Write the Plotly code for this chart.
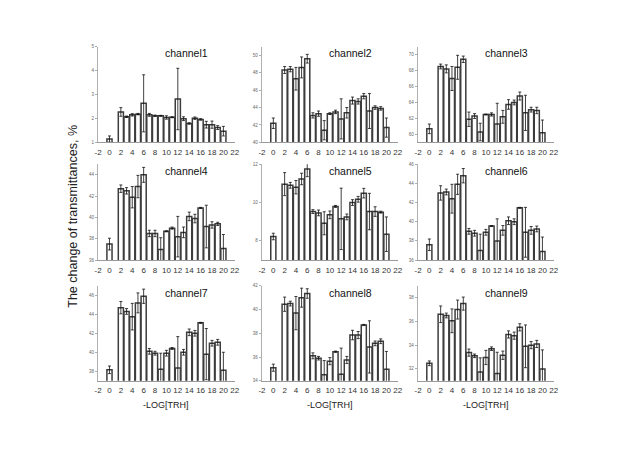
import plotly.graph_objects as go

x_vals = [0, 2, 3, 4, 5, 6, 7, 8, 9, 10, 11, 12, 13, 14, 15, 16, 17, 18, 19, 20]

ch1 = [1.14, 2.27, 2.07, 2.15, 2.18, 2.63, 2.15, 2.11, 2.11, 2.04, 2.05, 2.81, 1.99, 1.79, 2.01, 1.96, 1.74, 1.74, 1.62, 1.47]
ch1_err = [0.13, 0.18, 0.03, 0.05, 0.03, 1.19, 0.06, 0.03, 0.02, 0.07, 0.02, 1.28, 0.08, 0.03, 0.05, 0.03, 0.14, 0.15, 0.08, 0.2]

ch2 = [42.2, 48.3, 48.4, 47.3, 48.6, 49.6, 43.1, 43.3, 41.4, 43.3, 43.5, 42.7, 43.4, 44.8, 44.7, 45.3, 43.6, 44.0, 43.9, 41.7]
ch2_err = [0.6, 0.4, 0.3, 1.3, 1.2, 0.5, 0.3, 0.3, 1.1, 0.1, 0.2, 2.3, 0.6, 0.4, 0.3, 0.3, 2.0, 0.2, 0.2, 1.1]

ch3 = [60.7, 68.5, 68.2, 67.0, 68.4, 69.4, 61.9, 62.3, 60.3, 62.5, 62.5, 61.3, 62.2, 63.75, 64.0, 64.8, 62.7, 63.1, 63.0, 60.2]
ch3_err = [0.6, 0.3, 0.5, 1.5, 1.5, 0.4, 0.9, 0.3, 1.1, 0.05, 0.2, 2.6, 0.8, 0.6, 0.3, 0.5, 2.2, 0.3, 0.4, 1.6]

ch4 = [37.5, 42.7, 42.5, 41.9, 42.9, 44.0, 38.5, 38.5, 37.0, 38.7, 39.0, 38.2, 38.6, 40.1, 39.9, 40.9, 39.15, 39.3, 39.4, 37.1]
ch4_err = [0.55, 0.35, 0.3, 1.0, 1.05, 0.7, 0.3, 0.3, 1.1, 0.05, 0.1, 1.9, 0.5, 0.4, 0.4, 0.05, 2.0, 0.3, 0.15, 1.3]

ch5 = [8.23, 10.96, 10.9, 10.8, 11.23, 11.75, 9.53, 9.46, 8.92, 9.36, 9.8, 9.15, 9.25, 10.0, 10.17, 10.49, 9.53, 9.53, 9.5, 8.35]
ch5_err = [0.17, 0.6, 0.15, 0.35, 0.3, 0.4, 0.1, 0.15, 0.6, 0.2, 0.05, 1.6, 0.15, 0.15, 0.15, 0.25, 0.95, 0.25, 0.05, 0.9]

ch6 = [37.6, 43.0, 43.1, 42.4, 43.9, 44.8, 39.0, 38.8, 37.0, 38.9, 39.55, 38.0, 39.1, 40.1, 40.0, 41.45, 38.9, 39.1, 39.25, 36.9]
ch6_err = [0.6, 0.75, 0.3, 1.5, 1.05, 0.75, 0.3, 0.3, 1.7, 0.3, 0.05, 2.3, 0.5, 0.4, 0.3, 0.05, 2.6, 0.4, 0.3, 1.5]

ch7 = [38.15, 44.7, 44.3, 43.75, 45.2, 45.9, 40.1, 39.9, 38.2, 39.9, 40.4, 38.35, 40.0, 42.1, 42.0, 43.1, 39.8, 40.95, 41.05, 38.1]
ch7_err = [0.4, 0.65, 0.3, 1.4, 1.05, 0.75, 0.3, 0.2, 1.7, 0.3, 0.1, 3.3, 0.3, 0.35, 0.3, 0.05, 2.7, 0.3, 0.3, 1.9]

ch8 = [35.1, 40.45, 40.5, 39.7, 41.0, 41.35, 36.1, 35.9, 34.5, 35.65, 36.45, 34.55, 35.75, 37.85, 37.85, 38.7, 36.85, 37.15, 37.33, 34.97]
ch8_err = [0.3, 0.6, 0.2, 1.4, 0.8, 0.4, 0.25, 0.15, 1.2, 0.3, 0.05, 2.2, 0.3, 0.4, 0.3, 0.05, 2.2, 0.2, 0.2, 1.5]

ch9 = [32.47, 36.6, 36.5, 36.05, 37.0, 37.5, 33.37, 33.1, 31.73, 32.96, 33.7, 31.6, 33.15, 34.9, 34.8, 35.5, 33.9, 34.0, 34.1, 32.0]
ch9_err = [0.2, 0.7, 0.2, 1.0, 0.8, 0.55, 0.3, 0.15, 1.2, 0.6, 0.15, 1.8, 0.35, 0.3, 0.3, 0.3, 1.8, 0.3, 0.3, 1.6]

titles = ["channel1", "channel2", "channel3", "channel4", "channel5",
          "channel6", "channel7", "channel8", "channel9"]
means = [ch1, ch2, ch3, ch4, ch5, ch6, ch7, ch8, ch9]
errs = [ch1_err, ch2_err, ch3_err, ch4_err, ch5_err, ch6_err, ch7_err, ch8_err, ch9_err]
y_ranges = [[1, 5], [40, 51], [59, 71], [36, 45], [7, 12], [36, 46], [37, 47], [34, 42], [31, 39]]
y_ticks = [[1, 2, 3, 4, 5], [40, 42, 44, 46, 48, 50], [60, 62, 64, 66, 68, 70],
           [36, 38, 40, 42, 44], [8, 10, 12], [36, 38, 40, 42, 44, 46],
           [38, 40, 42, 44, 46], [34, 36, 38, 40, 42], [32, 34, 36, 38]]
x_ticks = list(range(-2, 23, 2))
x_ticktext = [str(v) for v in x_ticks]

W, H = 640, 450
col_px = [(96, 235), (262, 400), (420, 558)]
row_px = [(45, 142), (164, 261), (287, 383)]

FONT = "Liberation Sans, Arial, sans-serif"
fig = go.Figure()
layout = dict(
    width=W, height=H, margin=dict(l=0, r=0, t=0, b=0),
    paper_bgcolor="white", plot_bgcolor="white", showlegend=False,
    font=dict(family=FONT, color="#222"),
    bargap=0.1,
)
annotations = []
for i in range(9):
    r, c = divmod(i, 3)
    n = i + 1
    xa = "xaxis" if n == 1 else f"xaxis{n}"
    ya = "yaxis" if n == 1 else f"yaxis{n}"
    xr = "x" if n == 1 else f"x{n}"
    yr = "y" if n == 1 else f"y{n}"
    x0, x1 = col_px[c]
    y0, y1 = row_px[r]
    layout[xa] = dict(
        domain=[x0 / W, x1 / W], anchor=yr, range=[-2.05, 22.05],
        tickvals=x_ticks, ticktext=x_ticktext, showgrid=False, zeroline=False,
        showline=True, linecolor="#9a9a9a", linewidth=1, ticks="",
        tickangle=0, ticklabelstandoff=2,
        tickfont=dict(size=8, color="#333", family=FONT),
    )
    layout[ya] = dict(
        domain=[1 - y1 / H, 1 - y0 / H], anchor=xr, range=y_ranges[i],
        tickvals=y_ticks[i], showgrid=False, zeroline=False,
        showline=True, linecolor="#b0b0b0", linewidth=1, ticks="outside",
        ticklen=2, tickcolor="#b0b0b0",
        tickfont=dict(size=4.5, color="#666", family=FONT),
    )
    fig.add_trace(go.Bar(
        x=x_vals, y=means[i], xaxis=xr, yaxis=yr, width=0.9,
        marker=dict(color="white", line=dict(color="#3c3c3c", width=1.5)),
        error_y=dict(type="data", array=errs[i], visible=True,
                     color="#111", thickness=0.8, width=1.5),
    ))
    annotations.append(dict(
        text=titles[i], x=(x0 + 89.5) / W, y=1 - (y0 + 7) / H,
        xref="paper", yref="paper", showarrow=False,
        xanchor="center", yanchor="middle",
        font=dict(size=10.5, color="#111", family=FONT),
    ))

for c in range(3):
    x0, x1 = col_px[c]
    annotations.append(dict(
        text="-LOG[TRH]", x=(x0 + x1) / 2 / W, y=1 - 408 / H,
        xref="paper", yref="paper", showarrow=False,
        xanchor="center", yanchor="middle",
        font=dict(size=9, color="#222", family=FONT),
    ))

annotations.append(dict(
    text="The change of transmittances, %", x=70 / W, y=1 - 217 / H,
    xref="paper", yref="paper", showarrow=False, textangle=-90,
    xanchor="center", yanchor="middle",
    font=dict(size=12.5, color="#222", family=FONT),
))
layout["annotations"] = annotations
fig.update_layout(**layout)
fig.write_html("out.html")
